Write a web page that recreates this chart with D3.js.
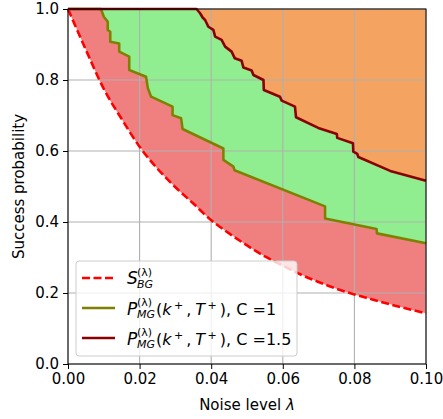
<!DOCTYPE html>
<html><head><meta charset="utf-8">
<script src="https://cdn.jsdelivr.net/npm/d3@7"></script>
<style>
html,body{margin:0;padding:0;background:#fff;}
text{font-family:"DejaVu Sans",sans-serif;}
</style></head>
<body><div id="chart"></div>
<script>
// ---- data ----
const xTicks = [0, 0.02, 0.04, 0.06, 0.08, 0.10];
const yTicks = [0, 0.2, 0.4, 0.6, 0.8, 1.0];
const xTickLabels = ["0.00","0.02","0.04","0.06","0.08","0.10"];
const yTickLabels = ["0.0","0.2","0.4","0.6","0.8","1.0"];

// S_BG (dashed red curve)
const sbgLambda = [0,0.005,0.01,0.015,0.02,0.025,0.03,0.035,0.04,0.045,0.05,0.055,0.06,0.065,0.07,0.075,0.08,0.085,0.09,0.095,0.1];
const sbgValues = [1.0,0.885,0.775,0.69,0.612,0.55,0.498,0.452,0.405,0.368,0.334,0.303,0.277,0.252,0.231,0.212,0.196,0.182,0.168,0.155,0.143];

// P_MG, C = 1 (olive step curve)
const pmg1Lambda = [0,0.0092,0.0100,0.0111,0.0111,0.0118,0.0118,0.0143,0.0143,0.0171,0.0171,0.0218,0.0223,0.0232,0.0292,0.0292,0.0316,0.0320,0.0434,0.0434,0.0462,0.0465,0.0718,0.0718,0.0862,0.0863,0.1];
const pmg1Values = [1.0,1.0,0.978,0.964,0.941,0.936,0.908,0.903,0.880,0.866,0.828,0.809,0.777,0.753,0.725,0.701,0.692,0.662,0.607,0.575,0.556,0.546,0.444,0.410,0.380,0.368,0.340];

// P_MG, C = 1.5 (dark red step curve)
const pmg15Lambda = [0,0.0359,0.0369,0.0376,0.0383,0.0392,0.0406,0.0411,0.0429,0.0439,0.0457,0.0466,0.0485,0.0490,0.0513,0.0518,0.0546,0.0547,0.0592,0.0597,0.0634,0.0637,0.0699,0.0751,0.0752,0.0796,0.0797,0.0808,0.0811,0.0900,0.1];
const pmg15Values = [1.0,1.0,0.988,0.976,0.969,0.950,0.941,0.922,0.913,0.894,0.880,0.861,0.854,0.835,0.827,0.814,0.800,0.772,0.753,0.742,0.725,0.695,0.665,0.648,0.637,0.622,0.598,0.592,0.583,0.544,0.516];

// ---- drawing ----
const W = 443, H = 419;
const m = {left:68, right:17, top:9, bottom:55};
const svg = d3.select("#chart").append("svg").attr("width", W).attr("height", H);

const x = d3.scaleLinear().domain([0, 0.1]).range([m.left, W - m.right]);
const y = d3.scaleLinear().domain([0, 1]).range([H - m.bottom, m.top]);

const zip = (a, b) => a.map((v, i) => [v, b[i]]);
const sbg = zip(sbgLambda, sbgValues);
const pmg1 = zip(pmg1Lambda, pmg1Values);
const pmg15 = zip(pmg15Lambda, pmg15Values);

svg.append("clipPath").attr("id","clip").append("rect")
  .attr("x", x(0)).attr("y", y(1)).attr("width", x(0.1)-x(0)).attr("height", y(0)-y(1));
const g = svg.append("g").attr("clip-path","url(#clip)");

const areaTop = (curve) => d3.area().x(d => x(d[0])).y0(y(1)).y1(d => y(d[1])).curve(curve);
g.append("path").datum(sbg).attr("d", areaTop(d3.curveMonotoneX)).attr("fill", "#f08080");
g.append("path").datum(pmg1).attr("d", areaTop(d3.curveLinear)).attr("fill", "#90ee90");
g.append("path").datum(pmg15).attr("d", areaTop(d3.curveLinear)).attr("fill", "#f4a460");

// grid
const grid = svg.append("g");
xTicks.forEach(t => grid.append("line").attr("x1", x(t)).attr("x2", x(t)).attr("y1", y(0)).attr("y2", y(1))
  .attr("stroke", "#b0b0b0").attr("stroke-width", 1.1));
yTicks.forEach(t => grid.append("line").attr("y1", y(t)).attr("y2", y(t)).attr("x1", x(0)).attr("x2", x(0.1))
  .attr("stroke", "#b0b0b0").attr("stroke-width", 1.1));

// lines
const lineC = (curve) => d3.line().x(d => x(d[0])).y(d => y(d[1])).curve(curve);
const lg = svg.append("g");
lg.append("path").datum(pmg1).attr("d", lineC(d3.curveLinear)).attr("fill","none")
  .attr("stroke","#808000").attr("stroke-width",2.6).attr("stroke-linejoin","round");
lg.append("path").datum(pmg15).attr("d", lineC(d3.curveLinear)).attr("fill","none")
  .attr("stroke","#8b0000").attr("stroke-width",2.6).attr("stroke-linejoin","round");
lg.append("path").datum(sbg).attr("d", lineC(d3.curveMonotoneX)).attr("fill","none")
  .attr("stroke","#ff0000").attr("stroke-width",2.6).attr("stroke-dasharray","8,3.5");

// axes
const fs = 15;
const xAxis = svg.append("g").attr("transform", `translate(0,${y(0)})`)
  .call(d3.axisBottom(x).tickValues(xTicks).tickFormat((d,i) => xTickLabels[i]).tickSize(5).tickPadding(4));
const yAxis = svg.append("g").attr("transform", `translate(${x(0)},0)`)
  .call(d3.axisLeft(y).tickValues(yTicks).tickFormat((d,i) => yTickLabels[i]).tickSize(5).tickPadding(4));
[xAxis, yAxis].forEach(a => {
  a.select(".domain").remove();
  a.selectAll("text").attr("font-size", fs).attr("font-family","DejaVu Sans").attr("fill","#000");
  a.selectAll("line").attr("stroke","#000").attr("stroke-width",1);
});
// spines
svg.append("rect").attr("x", x(0)).attr("y", y(1)).attr("width", x(0.1)-x(0)).attr("height", y(0)-y(1))
  .attr("fill","none").attr("stroke","#000").attr("stroke-width",1);

// axis labels
svg.append("text").attr("x", (x(0)+x(0.1))/2).attr("y", 410).attr("text-anchor","middle")
  .attr("font-size", fs).text("Noise level ").append("tspan").attr("font-style","italic").text("λ");
svg.append("text").attr("transform", `translate(24,${(y(0)+y(1))/2}) rotate(-90)`).attr("text-anchor","middle")
  .attr("font-size", fs).text("Success probability");

// legend
const leg = svg.append("g");
leg.append("rect").attr("x", 76).attr("y", 261).attr("width", 221).attr("height", 95).attr("rx", 3)
  .attr("fill","#fff").attr("fill-opacity",0.8).attr("stroke","#cccccc").attr("stroke-width",1);
const rows = [278, 308, 338];
leg.append("line").attr("x1",82).attr("x2",115).attr("y1",rows[0]).attr("y2",rows[0])
  .attr("stroke","#ff0000").attr("stroke-width",2.6).attr("stroke-dasharray","8,3.5");
leg.append("line").attr("x1",82).attr("x2",115).attr("y1",rows[1]).attr("y2",rows[1])
  .attr("stroke","#808000").attr("stroke-width",2.6);
leg.append("line").attr("x1",82).attr("x2",115).attr("y1",rows[2]).attr("y2",rows[2])
  .attr("stroke","#8b0000").attr("stroke-width",2.6);

const lfs = 16, sfs = 11;
// row 1: S_BG^(λ)
leg.append("text").attr("x",127).attr("y",rows[0]+6).attr("font-size",lfs+1).attr("font-style","italic").text("S");
leg.append("text").attr("x",137).attr("y",rows[0]-2).attr("font-size",sfs).text("(λ)");
leg.append("text").attr("x",137).attr("y",rows[0]+10).attr("font-size",sfs).attr("font-style","italic").text("BG");
// rows 2,3
const labelsC = ["1", "1.5"];
[1,2].forEach((r, i) => {
  const yb = rows[r] + 7;
  leg.append("text").attr("x",127).attr("y",yb).attr("font-size",lfs+1).attr("font-style","italic").text("P");
  leg.append("text").attr("x",137).attr("y",yb-9).attr("font-size",sfs).text("(λ)");
  leg.append("text").attr("x",137).attr("y",yb+3).attr("font-size",sfs).attr("font-style","italic").text("MG");
  const t = leg.append("text").attr("x",156).attr("y",yb).attr("font-size",lfs);
  t.append("tspan").text("(");
  t.append("tspan").attr("font-style","italic").text("k");
  t.append("tspan").attr("font-size",sfs).attr("dy",-6).attr("dx",2.5).text("+");
  t.append("tspan").attr("dy",6).attr("dx",3).text(",");
  t.append("tspan").attr("font-style","italic").attr("dx",4).text("T");
  t.append("tspan").attr("font-size",sfs).attr("dy",-6).attr("dx",2.5).text("+");
  t.append("tspan").attr("dy",6).attr("dx",3).text("), C =" + labelsC[i]);
});
</script></body></html>
